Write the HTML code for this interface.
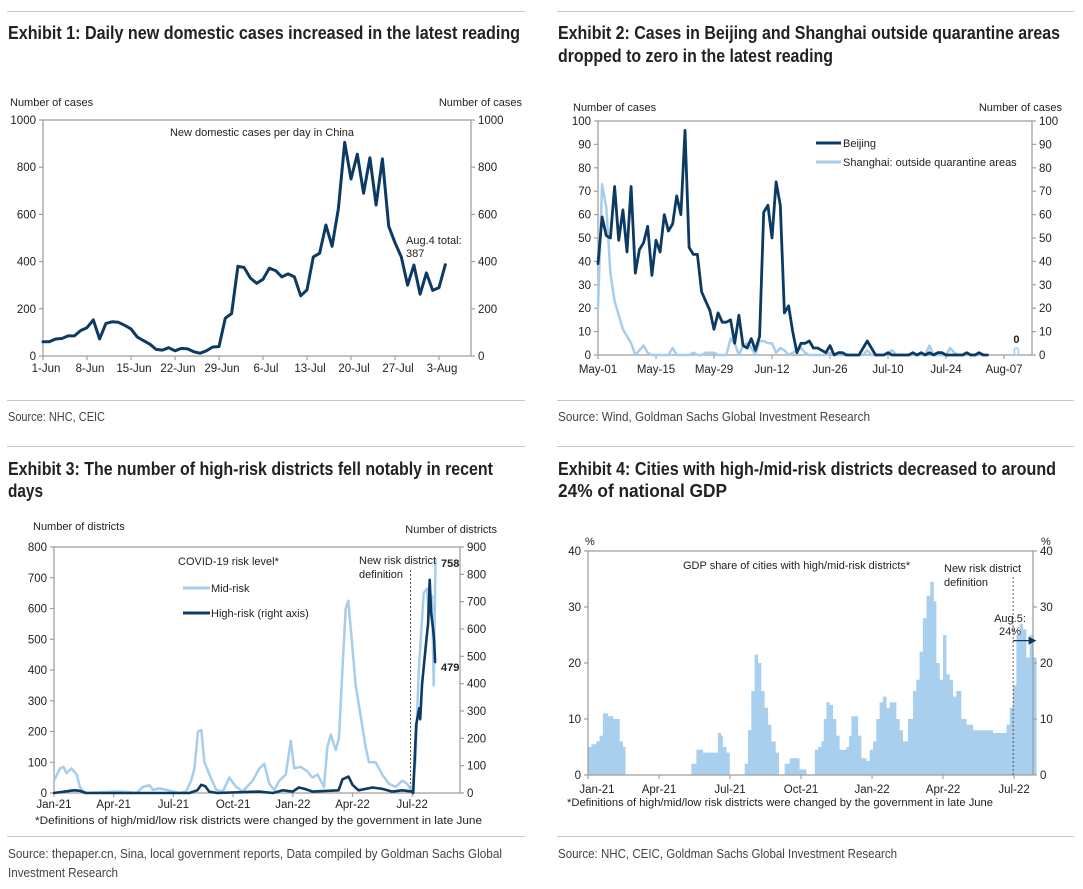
<!DOCTYPE html>
<html><head><meta charset="utf-8"><style>
html,body{margin:0;padding:0;background:#fff;}
svg{display:block;font-family:"Liberation Sans",Arial,sans-serif;}
.t{font-family:"Liberation Sans",sans-serif;font-weight:bold;font-size:18px;fill:#222;}
.s{font-family:"Liberation Sans",sans-serif;font-size:13px;fill:#444;}
.a{font-size:11px;fill:#222;}
.k{font-size:11.5px;fill:#222;}
</style></head><body>
<svg id="root" width="1083" height="889" viewBox="0 0 1083 889">
<g stroke="#c8c8c8" stroke-width="1">
<line x1="7" y1="11.5" x2="525" y2="11.5"/><line x1="557" y1="11.5" x2="1074" y2="11.5"/>
<line x1="7" y1="400.5" x2="525" y2="400.5"/><line x1="557" y1="400.5" x2="1074" y2="400.5"/>
<line x1="7" y1="446.5" x2="525" y2="446.5"/><line x1="557" y1="446.5" x2="1074" y2="446.5"/>
<line x1="7" y1="836.5" x2="525" y2="836.5"/><line x1="557" y1="836.5" x2="1074" y2="836.5"/>
</g>
<text class="t" x="8" y="39" textLength="512" lengthAdjust="spacingAndGlyphs">Exhibit 1: Daily new domestic cases increased in the latest reading</text>
<text class="t" x="558" y="39" textLength="502" lengthAdjust="spacingAndGlyphs">Exhibit 2: Cases in Beijing and Shanghai outside quarantine areas</text>
<text class="t" x="558" y="62" textLength="275" lengthAdjust="spacingAndGlyphs">dropped to zero in the latest reading</text>
<text class="t" x="8" y="475" textLength="485" lengthAdjust="spacingAndGlyphs">Exhibit 3: The number of high-risk districts fell notably in recent</text>
<text class="t" x="8" y="497" textLength="35" lengthAdjust="spacingAndGlyphs">days</text>
<text class="t" x="558" y="475" textLength="498" lengthAdjust="spacingAndGlyphs">Exhibit 4: Cities with high-/mid-risk districts decreased to around</text>
<text class="t" x="558" y="497" textLength="169" lengthAdjust="spacingAndGlyphs">24% of national GDP</text>
<text class="s" x="8" y="421" textLength="97" lengthAdjust="spacingAndGlyphs">Source: NHC, CEIC</text>
<text class="s" x="558" y="421" textLength="312" lengthAdjust="spacingAndGlyphs">Source: Wind, Goldman Sachs Global Investment Research</text>
<text class="s" x="8" y="858" textLength="494" lengthAdjust="spacingAndGlyphs">Source: thepaper.cn, Sina, local government reports, Data compiled by Goldman Sachs Global</text>
<text class="s" x="8" y="877" textLength="110" lengthAdjust="spacingAndGlyphs">Investment Research</text>
<text class="s" x="558" y="858" textLength="339" lengthAdjust="spacingAndGlyphs">Source: NHC, CEIC, Goldman Sachs Global Investment Research</text>
</svg>
<script>
// ---------- Chart 1 data ----------
const c1Values = [60,60,72,74,85,85,108,120,153,72,138,145,143,130,115,80,65,50,28,25,35,22,32,30,18,12,22,38,40,160,180,380,375,330,308,325,372,362,335,348,335,255,280,420,435,555,465,625,905,750,855,690,840,640,835,550,480,420,300,385,262,352,278,290,387];
const c1TickDays = [0,7,14,21,28,35,42,49,56,63];
const c1TickLabels = ["1-Jun","8-Jun","15-Jun","22-Jun","29-Jun","6-Jul","13-Jul","20-Jul","27-Jul","3-Aug"];
const c1YTicks = [0,200,400,600,800,1000];
// ---------- Chart 2 data ----------
const c2Beijing = [39,59,51,50,72,49,62,44,72,35,45,48,55,34,49,44,60,53,56,68,60,96,46,43,43,27,23,19,11,18,14,14,15,5,17,4,3,7,2,8,61,64,50,74,64,18,21,10,1,5,5,6,3,3,2,1,4,0,1,1,0,0,0,0,3,6,3,0,0,0,1,0,0,0,0,0,1,0,1,0,1,0,1,1,0,0,0,0,0,1,0,0,1,0,0];
const c2Shanghai = [20,73,63,35,23,17,11,8,5,0,2,4,1,0,0,0,0,0,3,0,0,0,0,1,0,0,1,1,1,0,0,0,7,5,0,4,5,3,0,6,6,5,5,1,3,2,0,1,2,3,1,0,0,0,0,0,1,0,0,0,0,0,0,0,0,2,0,0,0,0,1,2,0,0,0,0,0,0,0,0,4,0,0,0,0,3,1,0,0,0,0,0,0,0,0];
const c2ShanghaiLatestDay = 101;
const c2ShanghaiLatest = 0;
const c2TickDays = [0,14,28,42,56,70,84,98];
const c2TickLabels = ["May-01","May-15","May-29","Jun-12","Jun-26","Jul-10","Jul-24","Aug-07"];
const c2YTicks = [0,10,20,30,40,50,60,70,80,90,100];
// ---------- Chart 3 data (months since Jan-21) ----------
const c3MidMonths = [0,0.3,0.47,0.63,0.88,1.14,1.3,1.47,1.64,3.14,3.8,4.14,4.47,4.81,4.97,5.3,5.64,5.98,6.31,6.64,6.89,7.06,7.23,7.4,7.56,7.81,8.15,8.48,8.81,9.15,9.48,9.98,10.32,10.57,10.82,11.07,11.32,11.65,11.9,12.07,12.4,12.74,12.99,13.24,13.57,13.74,13.91,14.16,14.32,14.49,14.66,14.79,14.96,15.16,15.41,15.66,15.83,16.16,16.49,16.83,17.16,17.5,17.75,17.99,18.16,18.33,18.58,18.75,18.83,19.0,19.08,19.17];
const c3MidValues = [40,80,85,65,80,60,20,5,0,5,3,0,20,25,10,15,10,5,0,5,40,80,200,205,100,60,10,5,50,20,5,40,80,95,30,10,40,60,170,80,85,70,50,60,20,150,190,140,180,400,600,625,500,350,250,150,100,100,60,30,20,40,30,5,100,400,650,665,580,640,350,758];
const c3HighMonths = [0,1.0,1.3,1.6,6.8,7.2,7.4,7.6,7.8,8.2,10.3,11.0,11.5,12.0,12.3,12.6,13.0,14.3,14.5,14.8,15.0,15.3,16.0,16.5,17.0,17.5,18.0,18.05,18.2,18.35,18.4,18.5,18.7,18.8,18.88,18.95,19.05,19.1,19.15];
const c3HighValues = [0,10,8,0,0,10,30,25,5,0,5,0,10,5,20,15,5,10,50,60,30,10,20,15,5,10,5,0,250,310,270,400,550,620,780,660,600,560,479];
const c3TickMonths = [0,3,6,9,12,15,18];
const c3TickLabels = ["Jan-21","Apr-21","Jul-21","Oct-21","Jan-22","Apr-22","Jul-22"];
const c3LeftTicks = [0,100,200,300,400,500,600,700,800];
const c3RightTicks = [0,100,200,300,400,500,600,700,800,900];
// ---------- Chart 4 data ----------
const c4Months = [0,0.14,0.35,0.49,0.63,0.85,1.06,1.27,1.34,1.48,1.59,4.3,4.37,4.58,4.86,5.42,5.49,5.63,5.7,5.85,5.99,6.52,6.62,6.76,6.9,7.04,7.18,7.32,7.46,7.61,7.75,7.93,8.07,8.24,8.31,8.52,8.73,8.94,9.23,9.51,9.58,9.72,9.86,9.96,10.07,10.21,10.35,10.49,10.63,10.92,11.03,11.13,11.27,11.41,11.55,11.76,11.9,12.04,12.18,12.32,12.46,12.61,12.75,13.03,13.17,13.31,13.52,13.73,13.87,14.01,14.15,14.3,14.46,14.61,14.72,14.86,15.0,15.14,15.28,15.42,15.56,15.77,15.99,16.27,16.55,17.11,17.54,17.68,17.82,17.96,18.1,18.24,18.38,18.52,18.66,18.8];
const c4Values = [5,5.5,6,7,11,10.5,10,10,6,5,0,0,2,4.5,4,4,7.5,7,5,4,0,0,2,8,15,21.5,20,15,12,9,6,4,0,0,2,3,3,1,0,0,4.5,5,6,10,13,12.5,10,7,4.5,5,7,10.5,10.5,7,3,2.5,4.5,6,10,13,14,12,13,10,8,6,10,15,17,22,28,32,34.5,31,20,17,25,18,17,14,15,10,9,8,8,7.5,7.5,9,12,16,25,27,26,21,25,21];
const c4EndMonth = 18.95;
const c4Latest = 24;
const c4NewDefMonth = 17.96;
const c4TickMonths = [0,3,6,9,12,15,18];
const c4TickLabels = ["Jan-21","Apr-21","Jul-21","Oct-21","Jan-22","Apr-22","Jul-22"];
const c4YTicks = [0,10,20,30,40];

const NS = 'http://www.w3.org/2000/svg';
const root = document.getElementById('root');
function mk(tag, attrs, parent, txt){const e=document.createElementNS(NS,tag);for(const k in attrs)e.setAttribute(k,attrs[k]);if(txt!==undefined)e.textContent=txt;(parent||root).appendChild(e);return e;}
const DARK='#0c3a63', LIGHT='#a7cdec', AX='#a0a0a0', RED='#e4202c';

function frame(g,L,R,T,B,pre){
  const f=mk('rect',{x:L,y:T,width:R-L,height:B-T,fill:'none',stroke:AX,'stroke-width':1.3},g);
  
  
}
function yAxis(g,ticks,yf,x,side,pre,fmt){
  ticks.forEach(v=>{
    const y=yf(v);
    const tk=mk('line',{x1:x,x2:x+(side<0?-4:4),y1:y,y2:y,stroke:AX,'stroke-width':1.2},g);
    
    
    const lb=mk('text',{x:x+(side<0?-7:7),y:y+4,'text-anchor':side<0?'end':'start',class:'k'},g,fmt?fmt(v):String(v));
    
    
  });
}
function xAxis(g,vals,labels,xf,y,pre,ly,offs){
  vals.forEach((v,i)=>{
    const x=xf(v);
    const tk=mk('line',{x1:x,x2:x,y1:y,y2:y+4,stroke:AX,'stroke-width':1.2},g);
    
    
    const lb=mk('text',{x:x+(offs?offs(i):0),y:ly,'text-anchor':'middle',class:'k'},g,labels[i]);
    
    
  });
}
function poly(g,xs,ys,color,w,name){
  const d=xs.map((x,i)=>(i?'L':'M')+x.toFixed(1)+','+ys[i].toFixed(1)).join('');
  const p=mk('path',{d:d,fill:'none',stroke:color,'stroke-width':w,'stroke-linejoin':'round','stroke-linecap':'round'},g);
  
  
  return p;
}
function txt(g,x,y,s,name,attrs){
  const a=Object.assign({x:x,y:y,class:'a'},attrs||{});
  const t=mk('text',a,g,s);
  
  
  return t;
}

// ===== Chart 1 =====
(function(){
  const g=mk('g',{});
  
  
  const L=43,R=471,T=120,B=356;
  const x=d=>L+d*(396/63), y=v=>B-v*(B-T)/1000;
  frame(g,L,R,T,B,'exhibit-1');
  yAxis(g,c1YTicks,y,L,-1,'exhibit-1-left-y');
  yAxis(g,c1YTicks,y,R,1,'exhibit-1-right-y');
  xAxis(g,c1TickDays,c1TickLabels,x,B,'exhibit-1-x',372,()=>3);
  txt(g,10,106,'Number of cases','exhibit-1-left-axis-title');
  txt(g,522,106,'Number of cases','exhibit-1-right-axis-title',{'text-anchor':'end'});
  txt(g,262,136,'New domestic cases per day in China','exhibit-1-series-label',{'text-anchor':'middle'});
  poly(g,c1Values.map((v,i)=>x(i)),c1Values.map(y),DARK,3,'new-cases-line');
  txt(g,406,244,'Aug.4 total:','aug4-annotation',{fill:RED});
  txt(g,406,257,String(c1Values[c1Values.length-1]),'aug4-value',{fill:RED});
})();

// ===== Chart 2 =====
(function(){
  const g=mk('g',{});
  
  
  const L=598,R=1032,T=121,B=355;
  const x=d=>L+d*(406/98), y=v=>B-v*(B-T)/100;
  frame(g,L,R,T,B,'exhibit-2');
  yAxis(g,c2YTicks,y,L,-1,'exhibit-2-left-y');
  yAxis(g,c2YTicks,y,R,1,'exhibit-2-right-y');
  xAxis(g,c2TickDays,c2TickLabels,x,B,'exhibit-2-x',373);
  txt(g,573,111,'Number of cases','exhibit-2-left-axis-title');
  txt(g,1062,111,'Number of cases','exhibit-2-right-axis-title',{'text-anchor':'end'});
  poly(g,c2Shanghai.map((v,i)=>x(i)),c2Shanghai.map(y),LIGHT,2.5,'shanghai-line');
  poly(g,c2Beijing.map((v,i)=>x(i)),c2Beijing.map(y),DARK,2.8,'beijing-line');
  const m=mk('rect',{x:x(c2ShanghaiLatestDay)-2,y:y(c2ShanghaiLatest)-7,width:4,height:7,rx:2,fill:'none',stroke:LIGHT,'stroke-width':1.5},g);
  
  
  txt(g,x(c2ShanghaiLatestDay),y(c2ShanghaiLatest)-12,String(c2ShanghaiLatest),'latest-zero-label',{'text-anchor':'middle','font-weight':'bold','font-size':'12px'});
  const l1=mk('line',{x1:816,x2:841,y1:143,y2:143,stroke:DARK,'stroke-width':3},g);
  
  
  txt(g,843,147,'Beijing','legend-beijing-label');
  const l2=mk('line',{x1:816,x2:841,y1:162,y2:162,stroke:LIGHT,'stroke-width':3},g);
  
  
  txt(g,843,166,'Shanghai: outside quarantine areas','legend-shanghai-label');
})();

// ===== Chart 3 =====
(function(){
  const g=mk('g',{});
  
  
  const L=54,R=460,T=547,B=793;
  const x=m=>L+m*19.9, yl=v=>B-v*(B-T)/800, yr=v=>B-v*(B-T)/900;
  frame(g,L,R,T,B,'exhibit-3');
  yAxis(g,c3LeftTicks,yl,L,-1,'exhibit-3-left-y');
  yAxis(g,c3RightTicks,yr,R,1,'exhibit-3-right-y');
  xAxis(g,c3TickMonths,c3TickLabels,x,B,'exhibit-3-x',808);
  txt(g,33,530,'Number of districts','exhibit-3-left-axis-title');
  txt(g,497,533,'Number of districts','exhibit-3-right-axis-title',{'text-anchor':'end'});
  const dl=mk('line',{x1:410.5,x2:410.5,y1:570,y2:B,stroke:'#333','stroke-width':0.8,'stroke-dasharray':'2,2'},g);
  
  
  poly(g,c3MidMonths.map(x),c3MidValues.map(yl),LIGHT,2.5,'mid-risk-line');
  poly(g,c3HighMonths.map(x),c3HighValues.map(yr),DARK,2.6,'high-risk-line');
  txt(g,178,565,'COVID-19 risk level*','legend-title');
  const a=mk('line',{x1:183,x2:210,y1:588,y2:588,stroke:LIGHT,'stroke-width':3},g);
  
  
  txt(g,211,592,'Mid-risk','legend-mid-risk-label');
  const b=mk('line',{x1:183,x2:210,y1:613,y2:613,stroke:DARK,'stroke-width':3},g);
  
  
  txt(g,211,617,'High-risk (right axis)','legend-high-risk-label');
  txt(g,359,564,'New risk district','new-definition-label');
  txt(g,359,578,'definition','new-definition-label-line2');
  txt(g,441,567,String(c3MidValues[c3MidValues.length-1]),'mid-risk-latest-label',{fill:'#7fb0dd','font-weight':'bold','font-size':'12px'});
  txt(g,441,671,String(c3HighValues[c3HighValues.length-1]),'high-risk-latest-label',{'font-weight':'bold','font-size':'13px',fill:'#111'});
  txt(g,35,824,'*Definitions of high/mid/low risk districts were changed by the government in late June','exhibit-3-footnote',{'font-size':'11.5px',textLength:447,lengthAdjust:'spacingAndGlyphs'});
})();

// ===== Chart 4 =====
(function(){
  const g=mk('g',{});
  
  
  const L=588,R=1033,T=551,B=775;
  const x=m=>L+m*23.67, y=v=>B-v*(B-T)/40;
  let d='M'+x(c4Months[0]).toFixed(1)+','+B;
  c4Months.forEach((m,i)=>{
    const nx=i<c4Months.length-1?c4Months[i+1]:c4EndMonth;
    d+='L'+x(m).toFixed(1)+','+y(c4Values[i]).toFixed(1)+'L'+x(nx).toFixed(1)+','+y(c4Values[i]).toFixed(1);
  });
  d+='L'+x(c4EndMonth).toFixed(1)+','+B+'Z';
  const ar=mk('path',{d:d,fill:'#a9cfef',stroke:'none'},g);
  
  
  frame(g,L,R,T,B,'exhibit-4');
  yAxis(g,c4YTicks,y,L,-1,'exhibit-4-left-y');
  yAxis(g,c4YTicks,y,R,1,'exhibit-4-right-y');
  xAxis(g,c4TickMonths,c4TickLabels,x,B,'exhibit-4-x',793,i=>i===0?9:0);
  txt(g,585,545,'%','exhibit-4-left-axis-title');
  txt(g,1041,545,'%','exhibit-4-right-axis-title');
  txt(g,683,569,'GDP share of cities with high/mid-risk districts*','exhibit-4-series-label');
  txt(g,944,572,'New risk district','new-definition-label');
  txt(g,944,586,'definition','new-definition-label-line2');
  const nx=x(c4NewDefMonth);
  const dl=mk('line',{x1:nx,x2:nx,y1:577,y2:B,stroke:'#333','stroke-width':0.8,'stroke-dasharray':'2,2'},g);
  
  
  const ay=y(c4Latest);
  const al=mk('line',{x1:nx,x2:x(c4EndMonth)-7,y1:ay,y2:ay,stroke:DARK,'stroke-width':1.3},g);
  
  
  const ah=mk('polygon',{points:(x(c4EndMonth)-8)+','+(ay-4)+' '+(x(c4EndMonth))+','+ay+' '+(x(c4EndMonth)-8)+','+(ay+4),fill:DARK},g);
  
  
  txt(g,1010,622,'Aug.5:','aug5-annotation',{fill:RED,'text-anchor':'middle'});
  txt(g,1010,635,c4Latest+'%','aug5-value',{fill:RED,'text-anchor':'middle'});
  txt(g,567,806,'*Definitions of high/mid/low risk districts were changed by the government in late June','exhibit-4-footnote',{'font-size':'11.5px',textLength:426,lengthAdjust:'spacingAndGlyphs'});
})();
</script>
</body></html>
